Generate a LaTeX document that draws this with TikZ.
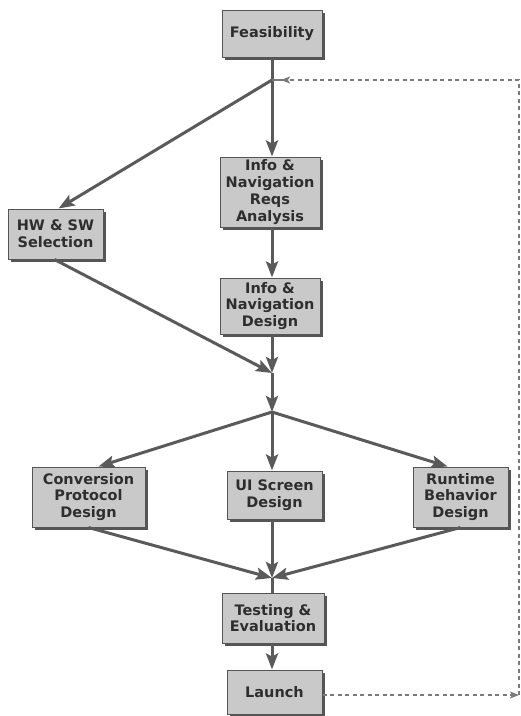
\documentclass[tikz,border=0pt]{standalone}
\usepackage{fontspec}
\setmainfont{DejaVu Sans}
\usetikzlibrary{arrows.meta,shadows}
\definecolor{boxfill}{HTML}{C9C9C9}
\definecolor{boxline}{HTML}{555555}
\definecolor{flow}{HTML}{5A5A5A}
\definecolor{loop}{HTML}{7A7A7A}
\definecolor{ink}{HTML}{2E2E2E}
\tikzset{
  stage/.style={draw=boxline, line width=1pt, fill=boxfill, align=center,
    inner sep=0pt, text=ink,
    font=\bfseries\fontsize{14.5}{16.7}\selectfont,
    drop shadow={shadow xshift=3pt, shadow yshift=-3pt, fill=boxline, opacity=1}},
  flowline/.style={draw=flow, line width=3pt},
  flowarrow/.style={flowline, -{Stealth[length=16pt,width=12pt,inset=3pt]}},
  loopline/.style={draw=loop, line width=1.3pt, dash pattern=on 4pt off 3.5pt},
}
\begin{document}
\begin{tikzpicture}[x=1pt,y=-1pt]
\useasboundingbox (0,0) rectangle (521,716);

% stages
\node[stage, minimum width=100, minimum height=47] (feas) at (272,33.5) {Feasibility};
\node[stage, minimum width=100, minimum height=70] (reqs) at (270,192) {Info \&\\Navigation\\Reqs\\Analysis};
\node[stage, minimum width=95, minimum height=50] (hw) at (55.5,234) {HW \& SW\\Selection};
\node[stage, minimum width=100, minimum height=56] (ides) at (270,306) {Info \&\\Navigation\\Design};
\node[stage, minimum width=113, minimum height=60] (conv) at (88.5,497) {Conversion\\Protocol\\Design};
\node[stage, minimum width=95, minimum height=48] (ui) at (274.5,495) {UI Screen\\Design};
\node[stage, minimum width=95, minimum height=60] (rt) at (460.5,497) {Runtime\\Behavior\\Design};
\node[stage, minimum width=102, minimum height=50] (test) at (273,618) {Testing \&\\Evaluation};
\node[stage, minimum width=95, minimum height=44] (launch) at (274.5,692) {Launch};

% branch points
\coordinate (j1) at (272,80);
\coordinate (j2) at (272,373);
\coordinate (j3) at (272,412);
\coordinate (j4) at (272,578);
\coordinate (c1) at (519,695);
\coordinate (c2) at (519,80);

% main flow
\draw[flowline] (feas.south -| j1) -- (j1);
\draw[flowarrow] (j1) -- (reqs.north -| j1);
\draw[flowarrow] (j1) -- ([xshift=3pt]hw.north);
\draw[flowarrow] (reqs.south -| j1) -- (ides.north -| j1);
\draw[flowarrow] (ides.south -| j1) -- (j2);
\draw[flowarrow] ([xshift=-1pt]hw.south) -- (j2);
\draw[flowarrow] (j2) -- (j3);
\draw[flowarrow] (j3) -- ([xshift=10pt]conv.north);
\draw[flowarrow] (j3) -- (ui.north -| j3);
\draw[flowarrow] (j3) -- ([xshift=-13pt]rt.north);
\draw[flowarrow] (conv.south) -- (j4);
\draw[flowarrow] (ui.south -| j4) -- (j4);
\draw[flowarrow] (rt.south) -- (j4);
\draw[flowline] (j4) -- (test.north -| j4);
\draw[flowarrow] (test.south -| j4) -- (launch.north -| j4);

% feedback loop
\draw[loopline, -{Stealth[length=9pt,width=7pt,inset=2pt]}] (launch.east |- c1) -- (c1);
\draw[loopline] (c1) -- (c2) -- ([xshift=18pt]j1);
\draw[draw=loop, line width=1.6pt, -{Stealth[length=9pt,width=7pt,inset=2pt,reversed]}] (j1) -- ([xshift=18pt]j1);
\end{tikzpicture}
\end{document}
